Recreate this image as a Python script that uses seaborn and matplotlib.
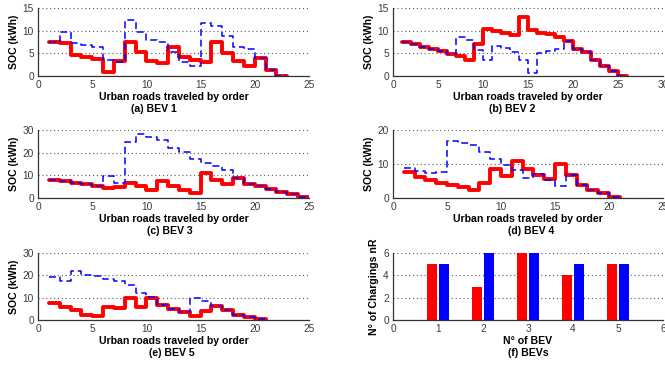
import numpy as np
import pandas as pd
import matplotlib
matplotlib.use("Agg")
import matplotlib.pyplot as plt
import seaborn as sns

# ---------------- data ----------------
a_red = [7.6, 7.2, 4.7, 4.1, 3.7, 0.8, 3.2, 7.5, 5.2, 3.3, 2.8, 6.5, 4.1, 3.6, 3.0, 7.4, 5.0, 3.3, 2.2, 3.9, 1.3, 0.1, 0.0]
a_blue = [7.6, 9.6, 7.2, 6.8, 6.3, 3.5, 3.1, 12.3, 9.8, 8.0, 7.5, 5.3, 3.0, 2.3, 11.7, 11.1, 8.9, 6.5, 6.0, 3.9, 1.3, 0.1, 0.0]

b_red = [7.5, 7.0, 6.4, 5.9, 5.5, 4.8, 4.4, 3.6, 7.0, 10.3, 10.0, 9.5, 9.0, 13.0, 10.1, 9.5, 9.2, 8.6, 7.8, 6.0, 5.2, 3.6, 2.1, 1.2, 0.1, 0.0]
b_blue = [7.5, 7.0, 6.4, 5.9, 5.5, 4.8, 8.6, 7.9, 5.7, 3.5, 6.6, 6.2, 5.3, 3.5, 0.7, 5.1, 5.5, 5.9, 7.8, 6.0, 5.2, 3.6, 2.1, 1.2, 0.1, 0.0]

c_red = [7.8, 7.3, 6.6, 6.0, 5.3, 4.6, 5.0, 6.8, 5.3, 3.5, 7.5, 5.3, 3.7, 2.0, 11.1, 7.8, 6.1, 9.0, 6.3, 5.5, 4.0, 2.6, 1.6, 0.3, 0.0]
c_blue = [7.8, 7.3, 6.6, 6.0, 5.3, 9.8, 6.4, 24.5, 28.2, 27.0, 25.7, 22.0, 20.3, 17.1, 15.6, 14.0, 12.3, 9.0, 6.3, 5.5, 4.0, 2.6, 1.6, 0.3, 0.0]

d_red = [7.6, 6.1, 5.2, 4.4, 3.9, 3.2, 2.4, 4.5, 8.5, 6.5, 10.9, 8.6, 6.9, 5.5, 10.0, 6.8, 3.9, 2.4, 1.5, 0.3, 0.0]
d_blue = [8.7, 8.0, 7.5, 7.6, 16.9, 16.1, 15.6, 13.5, 11.5, 9.6, 8.3, 5.9, 7.0, 5.4, 3.6, 6.8, 3.9, 2.4, 1.5, 0.3, 0.0]

e_red = [7.6, 5.9, 4.3, 2.4, 1.6, 6.0, 5.4, 9.8, 5.8, 10.0, 6.6, 5.0, 3.4, 1.7, 4.0, 6.4, 4.3, 2.4, 1.4, 0.3, 0.0]
e_blue = [19.1, 17.6, 21.8, 20.1, 19.5, 18.4, 17.6, 15.8, 12.0, 10.1, 6.6, 5.0, 3.4, 9.9, 8.4, 6.4, 4.3, 2.4, 1.4, 0.3, 0.0]

bev_ids = [1, 2, 3, 4, 5]
charges_red = [5, 3, 6, 4, 5]
charges_blue = [5, 6, 6, 5, 5]

x_label = "Urban roads traveled by order"
y_label = "SOC (kWh)"
subtitles = ["(a) BEV 1", "(b) BEV 2", "(c) BEV 3", "(d) BEV 4", "(e) BEV 5", "(f) BEVs"]

# ---------------- style ----------------
sns.set_style("white")
plt.rcParams["font.family"] = ["Liberation Sans", "DejaVu Sans"]

RED = "#ff0000"
BLUE = "#0000ff"
TICK_COLOR = "#3a3a3a"
LBL_FS = 7.6
TICK_FS = 7.3

W, H = 665, 365
fig = plt.figure(figsize=(W / 100, H / 100), dpi=100)


def add_ax(left, top, right, bottom):
    return fig.add_axes([left / W, 1 - bottom / H, (right - left) / W, (bottom - top) / H])


def style_ax(ax, xlim, ylim, xticks, yticks, xlab, ylab, sub, sub_x, ylab_x, h):
    ax.set_xlim(*xlim)
    ax.set_ylim(*ylim)
    ax.set_xticks(xticks)
    ax.set_yticks(yticks)
    ax.set_axisbelow(True)
    ax.yaxis.grid(True, linestyle=(0, (1, 2.5)), color="0.35", linewidth=0.8)
    ax.xaxis.grid(False)
    for s in ["top", "right"]:
        ax.spines[s].set_visible(False)
    for s in ["left", "bottom"]:
        ax.spines[s].set_color("0.2")
        ax.spines[s].set_linewidth(0.9)
    ax.tick_params(axis="both", direction="in", length=3, width=0.8, color="0.2",
                   labelsize=TICK_FS, labelcolor=TICK_COLOR, pad=3)
    ax.set_xlabel(xlab, fontsize=LBL_FS, fontweight="bold", color="black")
    ax.xaxis.label.set_va("center")
    ax.xaxis.set_label_coords(0.5, -21 / h)
    ax.set_ylabel(ylab, fontsize=LBL_FS, fontweight="bold", color="black")
    ax.yaxis.label.set_va("center")
    ax.yaxis.set_label_coords(ylab_x, 0.5)
    ax.text(sub_x, -33 / h, sub, transform=ax.transAxes, ha="center", va="center",
            fontsize=LBL_FS, fontweight="bold", color="black")


def soc_panel(ax, red, blue):
    xr = np.arange(1, len(red) + 1)
    xb = np.arange(1, len(blue) + 1)
    sns.lineplot(x=xr, y=red, ax=ax, color=RED, linewidth=2.8, drawstyle="steps-post",
                 estimator=None, sort=False)
    sns.lineplot(x=xb, y=blue, ax=ax, color=BLUE, linewidth=1.1, drawstyle="steps-post",
                 estimator=None, sort=False)
    ax.lines[-1].set_dashes([4.5, 2.5])


# left column: x 38..309 ; right column: x 393..663
L0, L1 = 38, 309
R0, R1 = 393, 663
rows = [(8, 76), (130, 198), (253, 320)]

panels = [
    (L0, L1, rows[0], a_red, a_blue, (0, 25), (0, 15), range(0, 26, 5), [0, 5, 10, 15], 0.426),
    (R0, R1, rows[0], b_red, b_blue, (0, 30), (0, 15), range(0, 31, 5), [0, 5, 10, 15], 0.44),
    (L0, L1, rows[1], c_red, c_blue, (0, 25), (0, 30), range(0, 26, 5), [0, 10, 20, 30], 0.487),
    (R0, R1, rows[1], d_red, d_blue, (0, 25), (0, 20), range(0, 26, 5), [0, 10, 20], 0.51),
    (L0, L1, rows[2], e_red, e_blue, (0, 25), (0, 30), range(0, 26, 5), [0, 10, 20, 30], 0.494),
]

for i, (x0, x1, (t, b), red, blue, xl, yl, xt, yt, sx) in enumerate(panels):
    ax = add_ax(x0, t, x1, b)
    soc_panel(ax, red, blue)
    style_ax(ax, xl, yl, list(xt), yt, x_label, y_label, subtitles[i], sx,
             -24 / (x1 - x0), b - t)

# panel (f): bar chart
t, b = rows[2]
axf = add_ax(R0, t, R1, b)
df_f = pd.DataFrame({
    "BEV": bev_ids * 2,
    "Chargings": charges_red + charges_blue,
    "Series": ["red"] * len(bev_ids) + ["blue"] * len(bev_ids),
})
sns.barplot(data=df_f, x="BEV", y="Chargings", hue="Series", hue_order=["red", "blue"],
            palette={"red": RED, "blue": BLUE}, native_scale=True, width=0.56, gap=0.2,
            saturation=1, errorbar=None, legend=False, linewidth=0, ax=axf)
style_ax(axf, (0, 6), (0, 6), list(range(0, 7)), [0, 2, 4, 6], "N° of BEV",
         "N° of Chargings nR", subtitles[5], 0.5, -19 / (R1 - R0), b - t)

fig.savefig("out.png", dpi=100)
